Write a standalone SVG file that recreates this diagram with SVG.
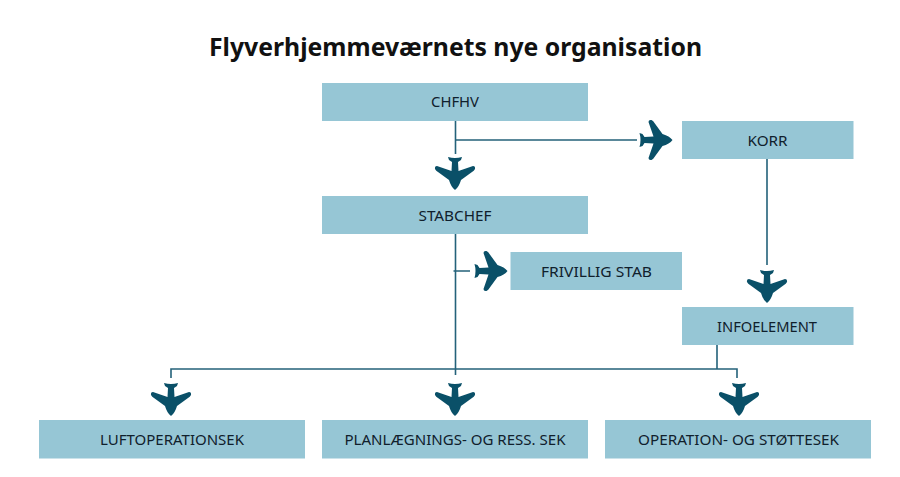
<svg xmlns="http://www.w3.org/2000/svg" xmlns:xlink="http://www.w3.org/1999/xlink" width="900" height="477" viewBox="0 0 900 477">
<style>
.box{fill:#96c6d5}
.lbl{font-family:"Noto Sans","DejaVu Sans",sans-serif;font-size:14.5px;fill:#10202c;text-anchor:middle}
.title{font-family:"Noto Sans","DejaVu Sans",sans-serif;font-weight:700;font-size:24.5px;fill:#111;text-anchor:middle}
.c{fill:none;stroke:#24627a;stroke-width:1.6}
.p{fill:#0a5068}
</style>
<defs>
<path id="plane" class="p" d="M-7,0 Q0,2 7,0 L6,3 L3,5 L3.5,14 L18,9 Q20.500,9 20,12 Q19,14 17,15 L6,23 Q4,30 0,33 Q-4,30 -6,23 L-17,15 Q-19,14 -20,12 Q-20.500,9 -18,9 L-3.500,14 L-3,5 L-6,3 Z"/>
</defs>
<rect width="900" height="477" fill="#fff"/>
<text class="title" x="455.500" y="56" textLength="493" lengthAdjust="spacingAndGlyphs">Flyverhjemmeværnets nye organisation</text>
<g id="connectors">
<path class="c" d="M455.500,121V154M455,140H637M455.500,233V375M453.500,271H470M767,159V265M717,345V369M171,378V369H737V378"/>
</g>
<g id="planes">
<use xlink:href="#plane" href="#plane" transform="translate(455,157)"/>
<use xlink:href="#plane" href="#plane" transform="translate(767,270)"/>
<use xlink:href="#plane" href="#plane" transform="translate(171,383)"/>
<use xlink:href="#plane" href="#plane" transform="translate(455,383)"/>
<use xlink:href="#plane" href="#plane" transform="translate(739,383)"/>
<use xlink:href="#plane" href="#plane" transform="translate(639.500,140) rotate(-90)"/>
<use xlink:href="#plane" href="#plane" transform="translate(474.500,271) rotate(-90)"/>
</g>
<g id="chfhv"><rect class="box" x="322" y="83" width="266" height="38"/><text class="lbl" x="455" y="107" textLength="48" lengthAdjust="spacingAndGlyphs">CHFHV</text></g>
<g id="korr"><rect class="box" x="682" y="121" width="171.500" height="38"/><text class="lbl" x="767.500" y="146" textLength="40" lengthAdjust="spacingAndGlyphs">KORR</text></g>
<g id="stabchef"><rect class="box" x="322" y="196" width="266" height="38"/><text class="lbl" x="455" y="221" textLength="73" lengthAdjust="spacingAndGlyphs">STABCHEF</text></g>
<g id="frivillig"><rect class="box" x="510.500" y="252" width="171.500" height="38"/><text class="lbl" x="596.500" y="276.500" textLength="111" lengthAdjust="spacingAndGlyphs">FRIVILLIG STAB</text></g>
<g id="infoelement"><rect class="box" x="682" y="307" width="171.500" height="38"/><text class="lbl" x="767" y="331.500" textLength="100" lengthAdjust="spacingAndGlyphs">INFOELEMENT</text></g>
<g id="luftop"><rect class="box" x="39" y="420" width="266" height="38.500"/><text class="lbl" x="172" y="444.500" textLength="144" lengthAdjust="spacingAndGlyphs">LUFTOPERATIONSEK</text></g>
<g id="planl"><rect class="box" x="322" y="420" width="266" height="38.500"/><text class="lbl" x="455" y="444.500" textLength="221" lengthAdjust="spacingAndGlyphs">PLANLÆGNINGS- OG RESS. SEK</text></g>
<g id="operation"><rect class="box" x="605" y="420" width="266" height="38.500"/><text class="lbl" x="738.500" y="444.500" textLength="201" lengthAdjust="spacingAndGlyphs">OPERATION- OG STØTTESEK</text></g>
</svg>
